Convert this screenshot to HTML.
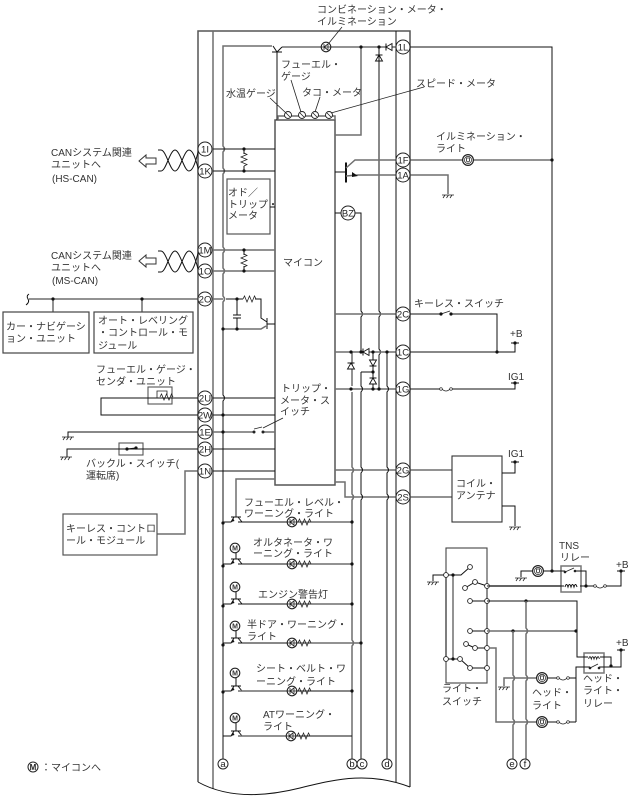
<!DOCTYPE html>
<html><head><meta charset="utf-8">
<style>
html,body{margin:0;padding:0;background:#fff}
svg{display:block}
text{font-family:"Liberation Sans","Noto Sans CJK JP",sans-serif;font-size:10px;fill:#333}
.c text,text.c{text-anchor:middle;font-size:9.5px;fill:#222}
.k{fill:none;stroke:#111;stroke-width:1}
.g{fill:none;stroke:#6f6f6f;stroke-width:1.5}
.t{fill:none;stroke:#222;stroke-width:.8}
</style></head><body>
<svg width="630" height="798" viewBox="0 0 630 798" xmlns="http://www.w3.org/2000/svg">
<defs>
<circle id="dot" r="1.6" fill="#111"/>
<circle id="op" r="2.4" fill="#fff" stroke="#222" stroke-width=".9"/>
<g id="res"><path class="t" d="M0,0 l1.5,-3 l2.5,6 l2.5,-6 l2.5,6 l2.5,-6 l1.5,3" fill="none"/></g>
<g id="diode"><path d="M0,-3 L3.5,3 H-3.5 Z" fill="#fff" stroke="#111" stroke-width=".9"/><path d="M-3.5,-3 H3.5" stroke="#111" stroke-width="1"/></g>
<g id="lamp"><circle r="4.8" fill="#fff" stroke="#222" stroke-width="1.1"/><path d="M-2,-3 V3 M-2,0 L2,-3 M-2,0 L2,3 M2,-3.5 V3.5 M-4.5,0 H4.5" class="t"/></g>
<g id="hl"><circle r="5.4" fill="#fff" stroke="#222" stroke-width="1.2"/><circle r="3.6" fill="none" stroke="#222" stroke-width=".7"/><path d="M-1.5,-1.5 V1 Q0,3 1.5,1 V-1.5 M-2,-2 H2" class="t"/></g>
<g id="gnd"><path d="M-6,0 H6 M-5,3 L-3,0 M-1.5,3 L.5,0 M2,3 L4,0" class="t"/></g>
<g id="fuse"><path class="t" d="M1,0 q4,4 8,0" /><circle cx="0" r="1.3" fill="#fff" stroke="#222" stroke-width=".7"/><circle cx="10" r="1.3" fill="#fff" stroke="#222" stroke-width=".7"/></g>
<g id="sw"><path class="t" d="M0,0 L9,-3"/><use href="#dot"/><use href="#dot" x="10"/></g>
<g id="tr"><path d="M-5,0 H5 M-2,0 L-5,5 H-13 M2,0 L6,5" class="k"/><path d="M-5,5 l2,-4 l1.5,3z" fill="#111"/></g>
<g id="m"><circle r="4.8" fill="#fff" stroke="#222" stroke-width="1.1"/><text x="0" y="2.7" text-anchor="middle" style="font-size:7px;font-weight:bold">M</text></g>
<g id="coil"><path class="k" d="M-6,1 q1.5,-5 3,0 q1.5,-5 3,0 q1.5,-5 3,0 q1.5,-5 3,0"/></g>
</defs>

<!-- frame -->
<path d="M198,782 V31 H410 V787" fill="none" stroke="#555" stroke-width="1.5"/>
<path d="M213,31 V789" class="g"/>
<path d="M396,31 V782" class="k" stroke-width="1.2"/>
<path d="M198,782 C225,797 260,798 300,788 C340,778 370,772 410,787" class="k"/>

<!-- micro box -->
<rect x="275" y="120" width="60" height="365" fill="#fff" stroke="#555" stroke-width="1.5"/>
<rect x="227" y="179" width="43" height="55" fill="#fff" stroke="#555" stroke-width="1.2"/>
<path d="M270,207 H275" class="k"/>

<!-- left verticals -->
<path class="g" d="M272,46 H223 V146 q3,3 0,6 V168 q3,3 0,6 V247 q3,3 0,6 V268 q3,3 0,6 V296 q3,3 0,6 V329"/>
<path class="k" d="M223,329 V395 q3,3 0,6 V759"/>

<!-- top -->
<path d="M282,47 H396" class="g"/>
<path d="M273,46 L277,52 L282,47 M272,52 H282" class="k"/>
<path d="M277,52 V120" class="k"/>
<use href="#lamp" x="326" y="47"/>
<path class="t" d="M329,43 L342,27"/>
<path class="g" d="M361,47 V135 H335"/>
<use href="#dot" x="361" y="47"/><use href="#dot" x="379" y="47"/>
<use href="#diode" transform="translate(389,47) rotate(-90)"/>
<use href="#diode" x="379" y="58"/>
<path class="k" d="M379,47 V311 q3,3 0,6 V349 q3,3 0,6 V389"/>
<path class="k" d="M410,47 H552 V571"/>

<!-- gauges -->
<path class="g" d="M278,120 V116 H335 V120"/>
<g fill="#fff" stroke="#222" stroke-width=".9">
<circle cx="288" cy="115" r="3.5"/><circle cx="302" cy="115" r="3.5"/><circle cx="315" cy="115" r="3.5"/><circle cx="329" cy="115" r="3.5"/>
</g>
<path class="t" d="M270,98 L286,113 M291,80 L301,112 M320,97 L315,112 M331,113 L424,87 M286,113 l4,4 M300,113 l4,4 M313,113 l4,4 M327,113 l4,4"/>

<!-- left pins to micro -->
<path class="k" d="M213,149 H275 M213,171 H275"/>
<path class="g" d="M213,250 H275 M213,271 H275"/>
<path class="k" d="M244,149 V154 M244,166 V171 M244,250 V255 M244,266 V271"/>
<use href="#res" transform="translate(244,153) rotate(90)"/>
<use href="#res" transform="translate(244,254) rotate(90)"/>
<use href="#dot" x="244" y="149"/><use href="#dot" x="244" y="171"/><use href="#dot" x="244" y="250"/><use href="#dot" x="244" y="271"/>

<!-- 2O circuit -->
<path class="g" d="M213,299 H223"/>
<path class="k" d="M226,299 H243 M255,299 H261 V318 L267,322"/>
<use href="#res" x="243" y="299"/>
<path class="k" d="M267,318 V329 M267,324 H275"/>
<path class="g" d="M223,329 H261 L266,326"/>
<path class="k" d="M237,299 V315 M233,315 H241 M233,318 H241 M237,318 V329"/>
<use href="#dot" x="237" y="299"/><use href="#dot" x="237" y="329"/><use href="#dot" x="223" y="329"/>

<path class="k" d="M213,398 H275 M213,415 H275 M213,449 H275 M213,471 H275"/>
<path class="g" d="M213,432 H254 M263,432 H275"/>
<path class="t" d="M254,429 L262,427"/>
<circle cx="254" cy="432" r="1.5" fill="#222"/><circle cx="263" cy="432" r="1.5" fill="#222"/>
<path class="t" d="M263,428 L283,418"/>
<use href="#dot" x="223" y="415"/><use href="#dot" x="223" y="432"/>

<!-- left exterior -->
<path class="k" d="M198,398 H101 V415 H198"/>
<rect x="148" y="387" width="24" height="17" fill="#fff" stroke="#555" stroke-width="1.1"/>
<path class="k" d="M101,398 H198"/>
<path class="t" d="M157,398 V391 H167 V395"/>
<use href="#res" x="160" y="397"/>
<path class="k" d="M198,432 H68 V438"/><use href="#gnd" x="68" y="437"/>
<path class="k" d="M198,449 H67 V457"/><use href="#gnd" x="66" y="457"/>
<rect x="119" y="443" width="24" height="12" fill="#fff" stroke="#555" stroke-width="1.1"/>
<path class="k" d="M67,449 H198"/>
<path d="M127,449 L136,448" class="k"/>
<use href="#dot" x="127" y="449"/><use href="#dot" x="136" y="448"/>
<path class="g" d="M198,471 H185 V534 H157"/>
<rect x="63" y="514" width="94" height="41" fill="#fff" stroke="#555" stroke-width="1.2"/>

<!-- 2O bus -->
<path class="g" d="M198,299 H29"/>
<path class="k" d="M29,294 q-3,2 -1,5 q2,3 -2,6"/>
<path class="g" d="M53,299 V312 M142,299 V312"/>
<use href="#dot" x="53" y="299"/><use href="#dot" x="142" y="299"/>
<rect x="3" y="312" width="86" height="41" fill="#fff" stroke="#444" stroke-width="1.2"/>
<rect x="94" y="312" width="99" height="41" fill="#fff" stroke="#444" stroke-width="1.2"/>

<!-- twist -->
<g class="k">
<path class="k" d="M158,150 H161 C166,150 170,171 175,171 C180,171 184,150 189,150 C194,150 197,165 199,171"/>
<path class="k" d="M158,171 H161 C166,171 170,150 175,150 C180,150 184,171 189,171 C194,171 197,155 199,149"/>
<path class="k" d="M158,251 H161 C166,251 170,272 175,272 C180,272 184,251 189,251 C194,251 197,266 199,272"/>
<path class="k" d="M158,272 H161 C166,272 170,251 175,251 C180,251 184,272 189,272 C194,272 197,256 199,250"/>
</g>
<path d="M139,161 L146,155 V158 H156 V164 H146 V167 Z" fill="#fff" stroke="#333" stroke-width="1"/>
<path d="M139,261 L146,255 V258 H156 V264 H146 V267 Z" fill="#fff" stroke="#333" stroke-width="1"/>

<!-- right side inside -->
<path class="k" d="M335,172 H346 M346,162 V183"/>
<path d="M346,163 V182" stroke="#111" stroke-width="2"/>
<path class="g" d="M346,168 L355,160 H396 M346,176 L358,175 H396"/>
<path d="M358,176 l-6,-4 l0,5z" fill="#111"/>
<path class="k" d="M335,213 H341 M355,213 H361 V311 q3,3 0,6 V352"/>
<path class="g" d="M335,314 H396 M335,352 H396 M335,389 H396"/>
<path class="g" d="M335,470 H396 M335,482 H345 V497 H396"/>
<path class="g" d="M352,352 V386 M352,392 V467 q3,3 0,6 V494 q3,3 0,6 V640 q3,3 0,6 V759"/>
<path class="k" d="M361,372 H373 M361,372 V386 q3,3 0,6 V467 q3,3 0,6 V494 q3,3 0,6 V759"/>
<path class="k" d="M373,352 V389"/>
<path class="k" d="M387,352 V386 q3,3 0,6 V467 q3,3 0,6 V494 q3,3 0,6 V759"/>
<use href="#diode" x="351" y="366"/>
<use href="#diode" transform="translate(373,363) rotate(180)"/>
<use href="#diode" x="373" y="381"/>
<use href="#diode" transform="translate(366,352) rotate(-90)"/>
<use href="#dot" x="351" y="352"/><use href="#dot" x="361" y="352"/><use href="#dot" x="373" y="352"/><use href="#dot" x="387" y="352"/>
<use href="#dot" x="373" y="372"/>
<use href="#dot" x="351" y="389"/><use href="#dot" x="373" y="389"/><use href="#dot" x="379" y="389"/>

<!-- right exterior -->
<path class="g" d="M410,160 H552 M410,175 H448 V194"/>
<use href="#gnd" x="448" y="195"/>
<use href="#dot" x="552" y="160"/>
<use href="#hl" x="468" y="160"/>
<path class="k" d="M410,314 H441 M452,314 H497 V352"/>
<use href="#sw" x="441" y="314"/>
<path class="k" d="M410,352 H515 V344 M511,343 H519"/>
<use href="#dot" x="497" y="352"/><use href="#dot" x="515" y="343"/>
<path class="k" d="M410,389 H441 M451,389 H515 V383 M511,383 H519"/>
<use href="#fuse" x="441" y="389"/><use href="#dot" x="515" y="383"/>
<path class="g" d="M410,470 H452 M410,497 H452"/>
<rect x="452" y="456" width="50" height="66" fill="#fff" stroke="#333" stroke-width="1.1"/>
<path class="k" d="M502,473 H515 V462 M511,462 H519 M502,506 H515 V526"/>
<use href="#dot" x="515" y="462"/><use href="#gnd" x="515" y="527"/>

<!-- warning lights -->
<path class="g" d="M275,479 H236 V517"/>
<use href="#tr" x="236" y="517"/>
<path class="k" d="M238,522 H287"/><path class="g" d="M287,522 H352"/>
<use href="#lamp" x="292" y="522"/><use href="#res" x="298" y="522"/>
<use href="#dot" x="352" y="522"/><use href="#dot" x="223" y="523"/>

<use href="#m" x="235" y="548"/><path class="k" d="M236,553 V559"/>
<use href="#tr" x="236" y="559"/>
<path class="k" d="M238,564 H287"/><path class="g" d="M287,564 H352"/>
<use href="#lamp" x="292" y="564"/><use href="#res" x="298" y="564"/>
<use href="#dot" x="352" y="564"/><use href="#dot" x="223" y="566"/>

<use href="#m" x="235" y="587"/><path class="k" d="M236,592 V599"/>
<use href="#tr" x="236" y="599"/>
<path class="k" d="M238,604 H287"/><path class="g" d="M287,604 H352"/>
<use href="#lamp" x="292" y="604"/><use href="#res" x="298" y="604"/>
<use href="#dot" x="352" y="604"/><use href="#dot" x="223" y="606"/>

<use href="#m" x="235" y="626"/><path class="k" d="M236,631 V638"/>
<use href="#tr" x="236" y="638"/>
<path class="k" d="M238,643 H287"/><path class="g" d="M287,643 H361"/>
<use href="#lamp" x="292" y="643"/><use href="#res" x="298" y="643"/>
<use href="#dot" x="361" y="643"/><use href="#dot" x="223" y="645"/>

<use href="#m" x="235" y="673"/><path class="k" d="M236,678 V686"/>
<use href="#tr" x="236" y="686"/>
<path class="g" d="M238,691 H287"/><path class="k" d="M287,691 H352"/>
<use href="#lamp" x="292" y="691"/><use href="#res" x="298" y="691"/>
<use href="#dot" x="352" y="691"/><use href="#dot" x="223" y="692"/>

<use href="#m" x="235" y="718"/><path class="k" d="M236,723 V731"/>
<use href="#tr" x="236" y="731"/>
<path class="g" d="M238,736 H287"/><path class="k" d="M287,736 H352"/>
<use href="#lamp" x="291" y="736"/><use href="#res" x="297" y="736"/>

<!-- light switch section -->
<rect x="446" y="548" width="41" height="135" fill="#fff" stroke="#444" stroke-width="1.1"/>
<path class="k" d="M446,575 V659 M446,575 H433 V581"/>
<use href="#gnd" x="433" y="582"/>
<path class="g" d="M453,575 V659"/>
<path class="k" d="M446,575 H461 L470,567"/>
<path class="k" d="M446,659 H460 L470,668 H487"/>
<path class="k" d="M465,588 L475,582 L487,586"/>
<path class="k" d="M470,601 H487 M470,631 H487 M466,644 L475,648 H487"/>
<path class="g" d="M487,586 V668"/>
<use href="#op" x="446" y="575"/><use href="#dot" x="453" y="575"/><use href="#op" x="470" y="567"/>
<use href="#op" x="465" y="588"/><use href="#op" x="475" y="582"/><use href="#op" x="487" y="586"/>
<use href="#op" x="470" y="601"/><use href="#op" x="487" y="601"/>
<use href="#op" x="470" y="631"/><use href="#op" x="487" y="631"/>
<use href="#op" x="466" y="644"/><use href="#op" x="475" y="648"/><use href="#op" x="487" y="648"/>
<use href="#op" x="446" y="659"/><use href="#dot" x="453" y="659"/><use href="#op" x="460" y="659"/>
<use href="#op" x="470" y="668"/><use href="#op" x="487" y="668"/>

<!-- TNS -->
<path class="g" d="M489,586 H561"/>
<rect x="561" y="566" width="20" height="26" fill="#fff" stroke="#777" stroke-width="1.5"/>
<path class="k" d="M487,586 H564 M580,586 H595 M605,586 H621 V572 M617,571 H625"/>
<use href="#coil" x="571" y="586"/>
<use href="#fuse" x="595" y="586"/><use href="#dot" x="586" y="586"/><use href="#dot" x="621" y="571"/>
<path class="k" d="M521,577 V571 H565 M575,571 H586 V586"/>
<path class="t" d="M565,572 L574,568"/>
<circle cx="565" cy="572" r="1.3" fill="#222"/><circle cx="575" cy="571" r="1.3" fill="#222"/>
<use href="#gnd" x="521" y="578"/>
<use href="#hl" x="538" y="571"/><use href="#dot" x="552" y="571"/>

<!-- head relay -->
<path class="k" d="M487,601 H577 V657 H589"/>
<path class="g" d="M487,631 H576"/>
<use href="#dot" x="526" y="601"/><use href="#dot" x="513" y="631"/><use href="#dot" x="576" y="631"/>
<path class="g" d="M526,601 V628 q3,3 0,6 V675 q3,3 0,6 V719 q3,3 0,6 V759"/>
<path class="g" d="M513,631 V675 q3,3 0,6 V719 q3,3 0,6 V759"/>
<rect x="584" y="653" width="20" height="20" fill="#fff" stroke="#777" stroke-width="1.5"/>
<use href="#coil" transform="translate(594,658) scale(.9)"/>
<path class="k" d="M577,657 H588 M600,657 H611 V666 M599,667 H621 V651 M617,650 H625 M590,667 H576 V722"/>
<path class="t" d="M590,668 L598,664"/>
<circle cx="590" cy="668" r="1.3" fill="#222"/><circle cx="599" cy="668" r="1.3" fill="#222"/>
<use href="#dot" x="611" y="666"/><use href="#dot" x="621" y="650"/>
<path class="g" d="M504,686 V678 H536 M489,648 H496 V722 H536"/>
<use href="#gnd" x="504" y="687"/>
<use href="#hl" x="542" y="678"/><use href="#hl" x="542" y="722"/>
<path class="k" d="M548,678 H558 M568,678 H576 M548,722 H558 M568,722 H576"/>
<use href="#fuse" x="558" y="678"/><use href="#fuse" x="558" y="722"/>

<!-- connectors -->
<g fill="#fff" stroke="#222" stroke-width="1">
<circle cx="205" cy="149" r="7"/><circle cx="205" cy="171" r="7"/><circle cx="205" cy="250" r="7"/><circle cx="205" cy="271" r="7"/><circle cx="205" cy="299" r="7"/>
<circle cx="205" cy="398" r="7"/><circle cx="205" cy="415" r="7"/><circle cx="205" cy="432" r="7"/><circle cx="205" cy="449" r="7"/><circle cx="205" cy="471" r="7"/>
<circle cx="403" cy="47" r="7"/><circle cx="403" cy="160" r="7"/><circle cx="403" cy="175" r="7"/><circle cx="403" cy="314" r="7"/><circle cx="403" cy="352" r="7"/><circle cx="403" cy="389" r="7"/><circle cx="403" cy="470" r="7"/><circle cx="403" cy="497" r="7"/>
<circle cx="348" cy="213" r="7"/>
<circle cx="223" cy="764" r="5"/><circle cx="352" cy="764" r="5"/><circle cx="362" cy="764" r="5"/><circle cx="387" cy="764" r="5"/><circle cx="512" cy="764" r="5"/><circle cx="525" cy="764" r="5"/>
<circle cx="33" cy="767" r="5"/>
</g>
<g class="c">
<text x="205" y="152.5">1I</text><text x="205" y="174.5">1K</text><text x="205" y="253.5">1M</text><text x="205" y="274.5">1O</text><text x="205" y="302.5">2O</text>
<text x="205" y="401.5">2U</text><text x="205" y="418.5">2W</text><text x="205" y="435.5">1E</text><text x="205" y="452.5">2H</text><text x="205" y="474.5">1N</text>
<text x="403" y="50.5">1L</text><text x="403" y="163.5">1F</text><text x="403" y="178.5">1A</text><text x="403" y="317.5">2C</text><text x="403" y="355.5">1C</text><text x="403" y="392.5">1G</text><text x="403" y="473.5">2G</text><text x="403" y="500.5">2S</text>
<text x="348" y="216.5">BZ</text>
<text x="223" y="767">a</text><text x="352" y="767">b</text><text x="362" y="767">c</text><text x="387" y="767">d</text><text x="512" y="767">e</text><text x="525" y="767">f</text>
<text x="33" y="770" style="font-size:8px;font-weight:bold">M</text>
</g>

<!-- labels -->
<text x="317" y="13">コンビネーション・メータ・</text>
<text x="317" y="25">イルミネーション</text>
<text x="281" y="68">フューエル・</text>
<text x="281" y="80">ゲージ</text>
<text x="226" y="97">水温ゲージ</text>
<text x="302" y="96">タコ・メータ</text>
<text x="416" y="87">スピード・メータ</text>
<text x="436" y="140">イルミネーション・</text>
<text x="436" y="152">ライト</text>
<text x="51" y="156">CANシステム関連</text>
<text x="51" y="168">ユニットへ</text>
<text x="52" y="182">(HS-CAN)</text>
<text x="51" y="259">CANシステム関連</text>
<text x="51" y="271">ユニットへ</text>
<text x="52" y="284">(MS-CAN)</text>
<text x="228" y="196">オド／</text>
<text x="228" y="208">トリップ・</text>
<text x="228" y="219">メータ</text>
<text x="283" y="266">マイコン</text>
<text x="6" y="330">カー・ナビゲーシ</text>
<text x="6" y="342">ョン・ユニット</text>
<text x="98" y="324">オート・レベリング</text>
<text x="98" y="336">・コントロール・モ</text>
<text x="98" y="349">ジュール</text>
<text x="96" y="373">フューエル・ゲージ・</text>
<text x="96" y="385">センダ・ユニット</text>
<text x="86" y="467">バックル・スイッチ(</text>
<text x="86" y="479">運転席)</text>
<text x="66" y="532">キーレス・コントロ</text>
<text x="66" y="544">ール・モジュール</text>
<text x="281" y="392">トリップ・</text>
<text x="280" y="404">メータ・ス</text>
<text x="280" y="415">イッチ</text>
<text x="244" y="506">フューエル・レベル・</text>
<text x="244" y="517">ワーニング・ライト</text>
<text x="253" y="546">オルタネータ・ワ</text>
<text x="253" y="557">ーニング・ライト</text>
<text x="258" y="598">エンジン警告灯</text>
<text x="247" y="628">半ドア・ワーニング・</text>
<text x="247" y="640">ライト</text>
<text x="256" y="672">シート・ベルト・ワ</text>
<text x="256" y="685">ーニング・ライト</text>
<text x="263" y="718">ATワーニング・</text>
<text x="263" y="730">ライト</text>
<text x="414" y="307">キーレス・スイッチ</text>
<text x="510" y="337">+B</text>
<text x="508" y="380">IG1</text>
<text x="508" y="457">IG1</text>
<text x="456" y="487">コイル・</text>
<text x="456" y="499">アンテナ</text>
<text x="559" y="549">TNS</text>
<text x="560" y="561">リレー</text>
<text x="616" y="568">+B</text>
<text x="616" y="646">+B</text>
<text x="442" y="692">ライト・</text>
<text x="442" y="705">スイッチ</text>
<text x="532" y="696">ヘッド・</text>
<text x="532" y="709">ライト</text>
<text x="583" y="682">ヘッド・</text>
<text x="583" y="694">ライト・</text>
<text x="583" y="707">リレー</text>
<text x="41" y="771">：マイコンへ</text>
</svg>
</body></html>
